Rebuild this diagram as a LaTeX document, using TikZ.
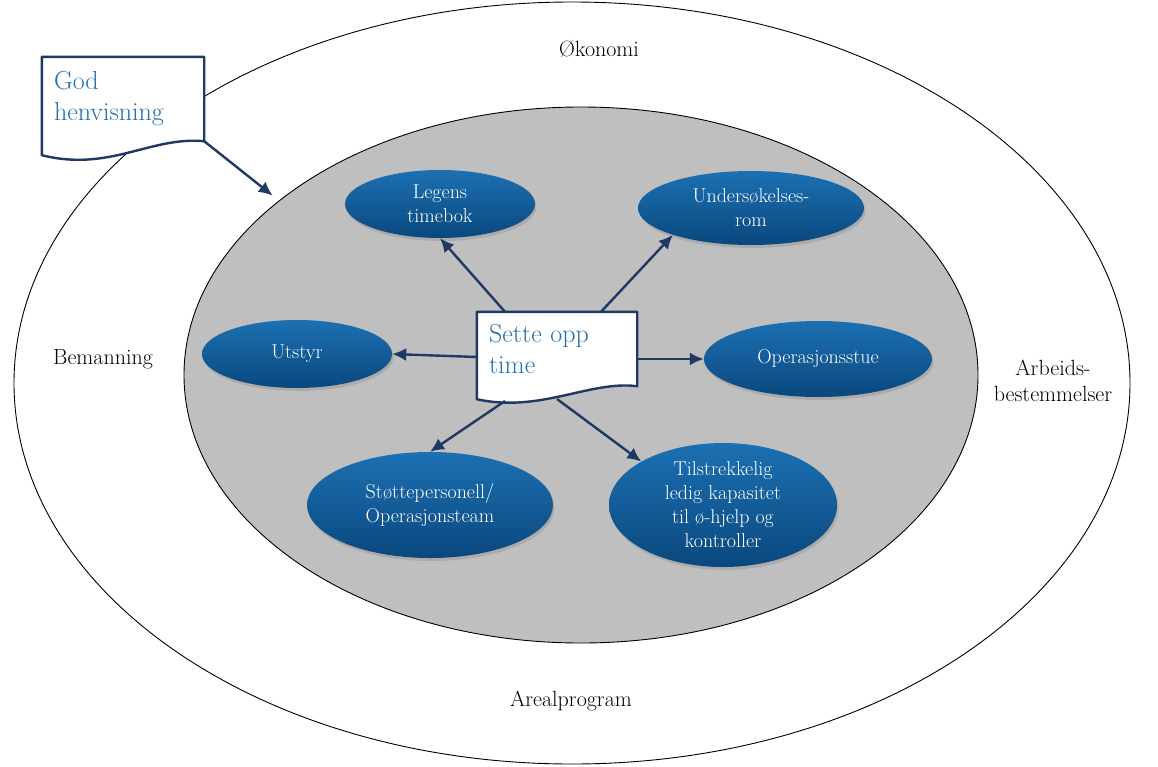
\documentclass[tikz,border=0pt]{standalone}
\usepackage{fontspec}
\usetikzlibrary{shapes.geometric,shadows,arrows.meta}
\definecolor{navy}{RGB}{31,56,100}
\definecolor{docblue}{RGB}{33,112,175}
\definecolor{elltop}{RGB}{28,112,178}
\definecolor{ellbot}{RGB}{10,72,126}
\definecolor{ringgray}{RGB}{191,191,191}
\pgfdeclarelayer{rings}
\pgfdeclarelayer{docs}
\pgfsetlayers{rings,docs,main}

\begin{document}
\begin{tikzpicture}[
  x=1pt,y=-1pt,
  ringnode/.style={draw=black,ellipse,inner sep=0pt,line width=0.9pt},
  mynodeb/.style={ellipse,inner sep=0pt,top color=elltop,bottom color=ellbot,
    text=white,align=center,font=\fontsize{20}{24}\selectfont,
    drop shadow={opacity=0.3,shadow xshift=1.5pt,shadow yshift=-3pt}},
  mynoded/.style={rectangle,inner sep=0pt,inner xsep=12pt,align=left,
    text=docblue,font=\fontsize{26}{31}\selectfont},
  docline/.style={draw=navy,line width=2.4pt,fill=white,line join=round},
  mylabel/.style={align=center,font=\fontsize{22}{26}\selectfont},
  myarrow/.style={draw=navy,line width=2.4pt,-{Latex[length=14pt,width=13pt]}}
]
\useasboundingbox (0,0) rectangle (1158,766);

% rings
\begin{pgfonlayer}{rings}
\node[ringnode,minimum width=1116pt,minimum height=762pt] (outer) at (572,383) {};
\node[ringnode,fill=ringgray,minimum width=794pt,minimum height=536pt] (inner) at (581,375) {};
\end{pgfonlayer}

\node[mylabel] (okonomi) at (599,49) {Økonomi};
\node[mylabel] (bemanning) at (103,359) {Bemanning};
\node[mylabel] (arbeid) at (1053,381) {Arbeids-\\bestemmelser};
\node[mylabel] (areal) at (571,701) {Arealprogram};

% documents
\node[mynoded,minimum width=162pt,minimum height=84pt,text width=138pt] (god) at (123,99) {God\\henvisning};
\node[mynoded,minimum width=160pt,minimum height=74pt,text width=136pt] (sette) at (557,349) {Sette opp\\time};
\begin{pgfonlayer}{docs}
\draw[docline] (god.north west) -- (god.north east) -- (god.south east)
  .. controls +(-54,-5) and +(68,17) .. ([yshift=-14pt]god.south west) -- cycle;
\draw[docline] (sette.north west) -- (sette.north east) -- (sette.south east)
  .. controls +(-47,-6) and +(63,14) .. ([yshift=-13pt]sette.south west) -- cycle;
\end{pgfonlayer}

% tasks
\node[mynodeb,minimum width=190pt,minimum height=68pt] (legens) at (440,204) {Legens\\timebok};
\node[mynodeb,minimum width=226pt,minimum height=74pt] (unders) at (751,208) {Undersøkelses-\\rom};
\node[mynodeb,minimum width=190pt,minimum height=68pt] (utstyr) at (297,354) {Utstyr};
\node[mynodeb,minimum width=228pt,minimum height=76pt] (opstue) at (818,359) {Operasjonsstue};
\node[mynodeb,minimum width=246pt,minimum height=106pt] (stotte) at (430,505) {Støttepersonell/\\Operasjonsteam};
\node[mynodeb,minimum width=228pt,minimum height=124pt] (tilstr) at (723,505) {Tilstrekkelig\\ledig kapasitet\\til ø-hjelp og\\kontroller};

\path (god.south east) edge[myarrow,shorten >=8pt] (inner.150)
([xshift=-52pt]sette.north) edge[myarrow] (legens.south)
([xshift=44pt]sette.north) edge[myarrow] (unders.199)
([yshift=-8pt]sette.west) edge[myarrow] (utstyr.east)
([yshift=-10pt]sette.east) edge[myarrow] (opstue.west)
([xshift=-52pt,yshift=-52pt]sette.center) edge[myarrow] (stotte.north)
([yshift=-50pt]sette.center) edge[myarrow] (tilstr.152);
\end{tikzpicture}
\end{document}
